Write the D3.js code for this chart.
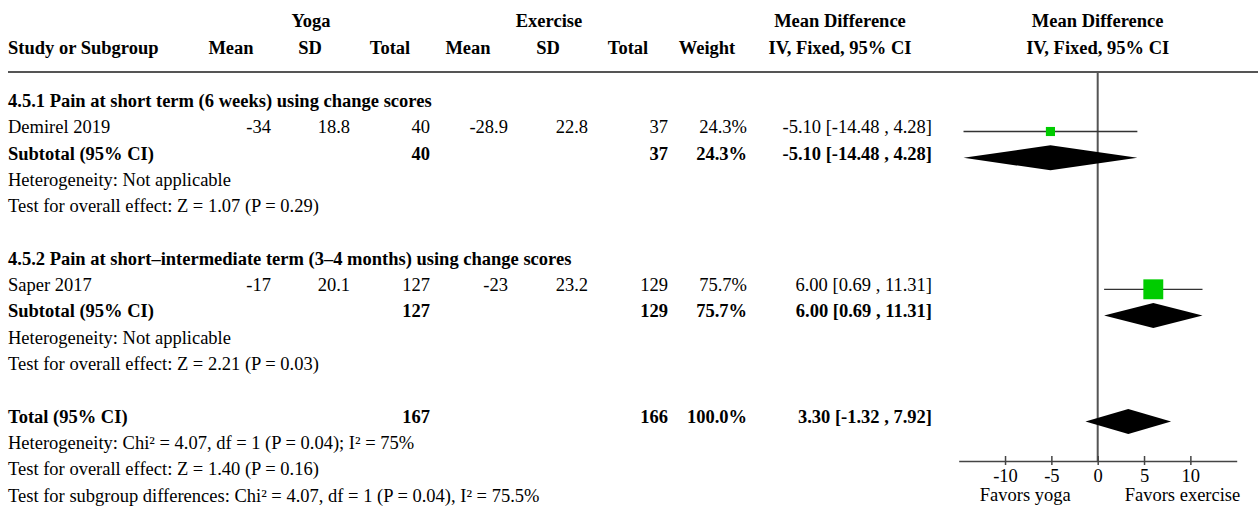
<!DOCTYPE html>
<html>
<head>
<meta charset="utf-8">
<script src="https://cdn.jsdelivr.net/npm/d3@7"></script>
<style>
  html, body { margin: 0; padding: 0; background: #fff; }
  svg text { font-family: "Liberation Serif", "Times New Roman", serif; font-size: 18.5px; fill: #000; }
  .b { font-weight: bold; }
</style>
</head>
<body>
<svg id="chart" width="1258" height="506"></svg>
<script>
// ---- data ----
const groupTitles = [
  "4.5.1 Pain at short term (6 weeks) using change scores",
  "4.5.2 Pain at short\u2013intermediate term (3\u20134 months) using change scores"
];
const studyNames = ["Demirel 2019", "Saper 2017"];
const yogaMean = [-34, -17];
const yogaSD = [18.8, 20.1];
const yogaN = [40, 127];
const exMean = [-28.9, -23];
const exSD = [22.8, 23.2];
const exN = [37, 129];
const weights = [24.3, 75.7];
const meanDiff = [-5.10, 6.00];
const ciLow = [-14.48, 0.69];
const ciHigh = [4.28, 11.31];

const subYogaN = [40, 127];
const subExN = [37, 129];
const subWeight = [24.3, 75.7];
const subMD = [-5.10, 6.00];
const subLow = [-14.48, 0.69];
const subHigh = [4.28, 11.31];
const hetNotes = ["Heterogeneity: Not applicable", "Heterogeneity: Not applicable"];
const effectNotes = [
  "Test for overall effect: Z = 1.07 (P = 0.29)",
  "Test for overall effect: Z = 2.21 (P = 0.03)"
];

const totalYogaN = 167;
const totalExN = 166;
const totalWeight = 100.0;
const totalMD = 3.30;
const totalLow = -1.32;
const totalHigh = 7.92;
const totalNotes = [
  "Heterogeneity: Chi\u00b2 = 4.07, df = 1 (P = 0.04); I\u00b2 = 75%",
  "Test for overall effect: Z = 1.40 (P = 0.16)",
  "Test for subgroup differences: Chi\u00b2 = 4.07, df = 1 (P = 0.04), I\u00b2 = 75.5%"
];

const axisTicks = [-10, -5, 0, 5, 10];
const axisDomain = [-15, 15];
const favorLabels = ["Favors yoga", "Favors exercise"];

// ---- layout ----
const svg = d3.select("#chart");
const colRight = { ym: 271, ysd: 350, yn: 430, em: 508, esd: 588, en: 668, w: 747, md: 932 };
const rowY = d3.scaleLinear().domain([0, 1]).range([107, 133.3]); // text baselines by row index
const x = d3.scaleLinear().domain(axisDomain).range([958.7, 1236.7]);
const boxSize = d3.scaleLinear().domain([0, 100]).range([4, 25]);
const axisY = 461;
const fmtMD = (m, lo, hi) => `${m.toFixed(2)} [${lo.toFixed(2)} , ${hi.toFixed(2)}]`;
const fmtW = w => `${w.toFixed(1)}%`;

function txt(xp, y, s, anchor, bold) {
  svg.append("text").attr("x", xp).attr("y", y)
    .attr("text-anchor", anchor || "start")
    .attr("class", bold ? "b" : null)
    .text(s);
}

// ---- header ----
txt(311, 27, "Yoga", "middle", true);
txt(549, 27, "Exercise", "middle", true);
txt(840, 27, "Mean Difference", "middle", true);
txt(x(0), 27, "Mean Difference", "middle", true);
txt(8, 53.5, "Study or Subgroup", "start", true);
[["ym", "Mean"], ["ysd", "SD"], ["yn", "Total"], ["em", "Mean"], ["esd", "SD"], ["en", "Total"], ["w", "Weight"]]
  .forEach(([k, s]) => txt(colRight[k] - 40, 53.5, s, "middle", true));
txt(840, 53.5, "IV, Fixed, 95% CI", "middle", true);
txt(x(0), 53.5, "IV, Fixed, 95% CI", "middle", true);

svg.append("line").attr("x1", 8).attr("x2", 1258).attr("y1", 72).attr("y2", 72)
  .attr("stroke", "#555").attr("stroke-width", 2);

// zero line
svg.append("line").attr("x1", x(0)).attr("x2", x(0)).attr("y1", 72).attr("y2", axisY)
  .attr("stroke", "#555").attr("stroke-width", 2);

function diamond(y, m, lo, hi) {
  const h = 12.5;
  svg.append("path")
    .attr("d", `M${x(lo)},${y}L${x(m)},${y - h}L${x(hi)},${y}L${x(m)},${y + h}Z`)
    .attr("fill", "#000");
}

// ---- subgroups ----
groupTitles.forEach((title, g) => {
  const r0 = g * 6;
  txt(8, rowY(r0), title, "start", true);

  // study row
  const ys = rowY(r0 + 1);
  txt(8, ys, studyNames[g]);
  txt(colRight.ym, ys, String(yogaMean[g]), "end");
  txt(colRight.ysd, ys, String(yogaSD[g]), "end");
  txt(colRight.yn, ys, String(yogaN[g]), "end");
  txt(colRight.em, ys, String(exMean[g]), "end");
  txt(colRight.esd, ys, String(exSD[g]), "end");
  txt(colRight.en, ys, String(exN[g]), "end");
  txt(colRight.w, ys, fmtW(weights[g]), "end");
  txt(colRight.md, ys, fmtMD(meanDiff[g], ciLow[g], ciHigh[g]), "end");
  const my = ys - 1.8;
  svg.append("line").attr("x1", x(ciLow[g])).attr("x2", x(ciHigh[g]))
    .attr("y1", my).attr("y2", my).attr("stroke", "#333").attr("stroke-width", 1.3);
  const s = boxSize(weights[g]);
  svg.append("rect").attr("x", x(meanDiff[g]) - s / 2).attr("y", my - s / 2)
    .attr("width", s).attr("height", s).attr("fill", "#00cc00");

  // subtotal row
  const yt = rowY(r0 + 2);
  txt(8, yt, "Subtotal (95% CI)", "start", true);
  txt(colRight.yn, yt, String(subYogaN[g]), "end", true);
  txt(colRight.en, yt, String(subExN[g]), "end", true);
  txt(colRight.w, yt, fmtW(subWeight[g]), "end", true);
  txt(colRight.md, yt, fmtMD(subMD[g], subLow[g], subHigh[g]), "end", true);
  diamond(yt - 1.8, subMD[g], subLow[g], subHigh[g]);

  txt(8, rowY(r0 + 3), hetNotes[g]);
  txt(8, rowY(r0 + 4), effectNotes[g]);
});

// ---- overall total ----
const yT = rowY(12);
txt(8, yT, "Total (95% CI)", "start", true);
txt(colRight.yn, yT, String(totalYogaN), "end", true);
txt(colRight.en, yT, String(totalExN), "end", true);
txt(colRight.w, yT, fmtW(totalWeight), "end", true);
txt(colRight.md, yT, fmtMD(totalMD, totalLow, totalHigh), "end", true);
diamond(yT - 1, totalMD, totalLow, totalHigh);
totalNotes.forEach((s, i) => txt(8, rowY(13 + i), s));

// ---- axis ----
const axis = d3.axisBottom(x).tickValues(axisTicks).tickFormat(d => String(d)).tickSizeOuter(0);
const ag = svg.append("g").attr("transform", `translate(0,${axisY})`).call(axis);
ag.select(".domain").attr("stroke", "#444").attr("stroke-width", 1.5);
ag.selectAll(".tick line").attr("y1", -5).attr("y2", 4).attr("stroke", "#444").attr("stroke-width", 1.5);
ag.selectAll(".tick text").attr("y", 21).attr("dy", null)
  .style("font-family", '"Liberation Serif", "Times New Roman", serif')
  .style("font-size", "18.5px").attr("fill", "#000");
txt(x(0) - 27, 500.5, favorLabels[0], "end");
txt(x(0) + 27, 500.5, favorLabels[1], "start");
</script>
</body>
</html>
